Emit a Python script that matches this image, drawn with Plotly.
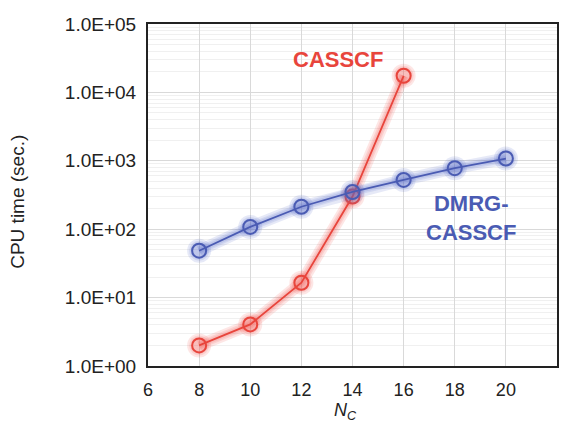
import plotly.graph_objects as go

# Data
nc_casscf = [8, 10, 12, 14, 16]
cpu_casscf = [2.0, 4.05, 16.5, 300, 17500]
nc_dmrg = [8, 10, 12, 14, 16, 18, 20]
cpu_dmrg = [48.5, 108, 213, 350, 525, 780, 1080]
x_ticks = [6, 8, 10, 12, 14, 16, 18, 20, 22]
y_tickvals = [1, 10, 100, 1000, 10000, 100000]
y_ticktext = ["1.0E+00", "1.0E+01", "1.0E+02", "1.0E+03", "1.0E+04", "1.0E+05"]

RED = "#E8453C"
BLUE = "#4A5BB3"
RED_GLOW = "rgba(240,90,80,0.15)"
BLUE_GLOW = "rgba(90,110,200,0.15)"

fig = go.Figure()

def add_series(x, y, color, glow):
    for w, s in [(12, 24), (8, 20), (5, 17)]:
        fig.add_trace(go.Scatter(
            x=x, y=y, mode="lines+markers",
            line=dict(color=glow, width=w),
            marker=dict(size=s, color=glow, line=dict(width=0)),
            hoverinfo="skip", showlegend=False))
    fig.add_trace(go.Scatter(
        x=x, y=y, mode="lines+markers",
        line=dict(color=color, width=1.8),
        marker=dict(size=14, symbol="circle-open", color=color, line=dict(width=2, color=color)),
        showlegend=False))

add_series(nc_casscf, cpu_casscf, RED, RED_GLOW)
add_series(nc_dmrg, cpu_dmrg, BLUE, BLUE_GLOW)

fig.add_annotation(x=13.45, y=4.48, xref="x", yref="y", text="<b>CASSCF</b>",
                   showarrow=False, font=dict(size=22, color=RED, family="Liberation Sans, Arial"))
fig.add_annotation(x=18.65, y=2.16, xref="x", yref="y", text="<b>DMRG-<br>CASSCF</b>",
                   showarrow=False, align="center",
                   font=dict(size=22, color=BLUE, family="Liberation Sans, Arial"))

# axis titles
fig.add_annotation(x=-0.318, y=0.48, xref="paper", yref="paper", text="CPU time (sec.)",
                   textangle=-90, showarrow=False, xanchor="center", yanchor="middle",
                   font=dict(size=19, color="#222222"))
fig.add_annotation(x=0.484, y=-0.132, xref="paper", yref="paper",
                   text="<i>N</i><sub><i>C</i></sub>",
                   showarrow=False, xanchor="center", yanchor="middle",
                   font=dict(size=18, color="#222222"))

# page body has an 8px margin: figure is sized/offset so the plot lands where the reference has it
fig.update_layout(
    width=555, height=417,
    margin=dict(l=140, r=6, t=16, b=59, autoexpand=False),
    paper_bgcolor="white", plot_bgcolor="white",
    font=dict(family="Liberation Sans, Arial", size=18, color="#222222"),
)
fig.update_xaxes(
    range=[6, 22], tickvals=x_ticks, ticks="", showgrid=True, gridcolor="#d9d9d9",
    gridwidth=1, zeroline=False, showline=True, mirror=True, linecolor="#222222", linewidth=2,
    tickfont=dict(size=18), ticklabelstandoff=6, automargin=False,
)
fig.update_yaxes(
    type="log", range=[0, 5], tickvals=y_tickvals, ticktext=y_ticktext, ticks="",
    showgrid=True, gridcolor="#d9d9d9", gridwidth=1, zeroline=False,
    showline=True, mirror=True, linecolor="#222222", linewidth=2,
    minor=dict(showgrid=True, gridcolor="#f0f0f0", dtick="D1"),
    tickfont=dict(size=19), ticklabelstandoff=6, automargin=False,
)

fig.write_html("out.html")
